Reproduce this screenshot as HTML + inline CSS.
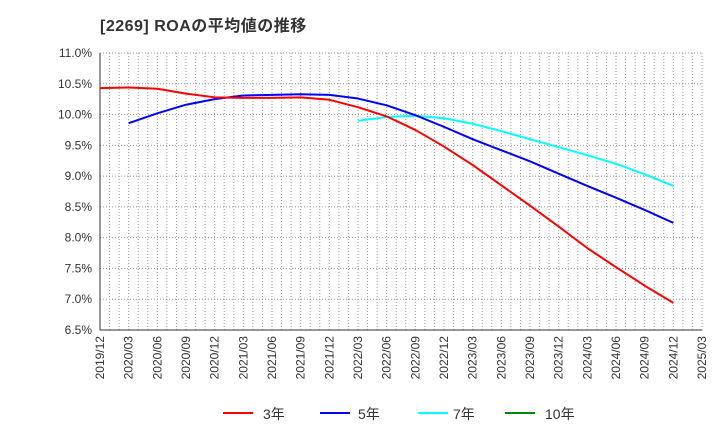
<!DOCTYPE html>
<html><head><meta charset="utf-8"><style>
body{margin:0;background:#fff;font-family:"Liberation Sans","Noto Sans CJK JP",sans-serif;}
svg text{font-family:"Liberation Sans","Noto Sans CJK JP",sans-serif;}
</style></head><body>
<svg id="chart" width="720" height="440" xmlns="http://www.w3.org/2000/svg">
<text x="100" y="31" font-size="16" font-weight="bold" fill="#333" letter-spacing="0.5">[2269]  ROAの平均値の推移</text>
<g id="grid"></g><g id="axes"></g><g id="series"></g>
<g>
<line x1="223" y1="413" x2="253" y2="413" stroke="#f00" stroke-width="2"/><text x="263" y="419" font-size="14" fill="#333">3年</text>
<line x1="320" y1="413" x2="350" y2="413" stroke="#00f" stroke-width="2"/><text x="358" y="419" font-size="14" fill="#333">5年</text>
<line x1="418" y1="413" x2="448" y2="413" stroke="#0ff" stroke-width="2"/><text x="453" y="419" font-size="14" fill="#333">7年</text>
<line x1="505" y1="413" x2="535" y2="413" stroke="#080" stroke-width="2"/><text x="545" y="419" font-size="14" fill="#333">10年</text>
</g>
</svg>
<script>
const xLabels=["2019/12","2020/03","2020/06","2020/09","2020/12","2021/03","2021/06","2021/09","2021/12","2022/03","2022/06","2022/09","2022/12","2023/03","2023/06","2023/09","2023/12","2024/03","2024/06","2024/09","2024/12","2025/03"];
const yTicks=[6.5,7.0,7.5,8.0,8.5,9.0,9.5,10.0,10.5,11.0];
const roa3=[10.43,10.44,10.42,10.34,10.28,10.27,10.27,10.28,10.24,10.12,9.97,9.75,9.48,9.18,8.85,8.52,8.18,7.83,7.52,7.22,6.94];
const roa5=[9.86,10.02,10.16,10.25,10.31,10.32,10.33,10.32,10.26,10.15,9.99,9.80,9.60,9.42,9.24,9.04,8.84,8.65,8.45,8.24];
const roa7=[9.90,9.96,9.98,9.94,9.85,9.73,9.60,9.47,9.34,9.20,9.03,8.84];
const X0=100,X1=702,Y0=330,Y1=53;
const xs=i=>X0+(X1-X0)*i/21;
const ys=v=>Y0-(v-6.5)/(11-6.5)*(Y0-Y1);
const NS="http://www.w3.org/2000/svg";
function mk(t,a,p){const e=document.createElementNS(NS,t);for(const k in a)e.setAttribute(k,a[k]);p.appendChild(e);return e;}
const grid=document.getElementById('grid'),axes=document.getElementById('axes'),ser=document.getElementById('series');
for(let m=1;m<63;m++){const x=X0+(X1-X0)*m/63;const l=mk('line',{x1:x,x2:x,y1:Y1,y2:Y0,stroke:'#999','stroke-dasharray':'1,2','stroke-width':1},grid);

}
yTicks.forEach(v=>{const y=ys(v);const l=mk('line',{x1:X0,x2:X1,y1:y,y2:y,stroke:'#999','stroke-dasharray':'1,2'},grid);


const t=mk('text',{x:X0-8,y:y+4,'text-anchor':'end','font-size':12,fill:'#333'},axes);t.textContent=v.toFixed(1)+'%';

});
mk('line',{x1:X0,x2:X0,y1:Y1,y2:Y0,stroke:'#333'},axes);
mk('line',{x1:X0,x2:X1,y1:Y0,y2:Y0,stroke:'#333'},axes);
mk('line',{x1:X1,x2:X1,y1:Y1,y2:Y0,stroke:'#999','stroke-dasharray':'1,2'},axes);
xLabels.forEach((s,i)=>{const x=xs(i)+4;const t=mk('text',{x:x,y:Y0+6,'text-anchor':'end','font-size':12,fill:'#333',transform:`rotate(-90 ${x} ${Y0+6})`},axes);t.textContent=s;

});
function line(arr,off,col,name){const p=mk('polyline',{points:arr.map((v,i)=>xs(i+off)+','+ys(v)).join(' '),fill:'none',stroke:col,'stroke-width':2,'stroke-linejoin':'round'},ser);

}
line(roa7,9,'#0ff','series-7yr');
line(roa5,1,'#00f','series-5yr');
line(roa3,0,'#f00','series-3yr');
</script>
</body></html>
